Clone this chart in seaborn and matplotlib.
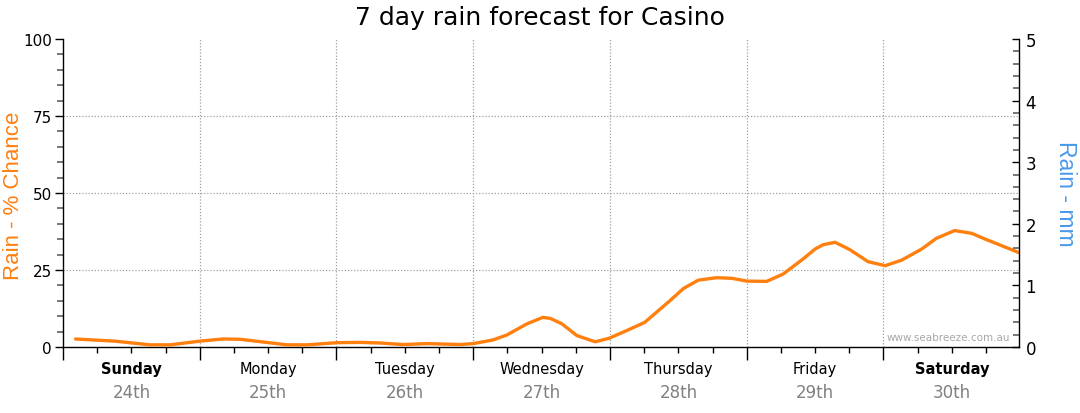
import matplotlib
matplotlib.use("Agg")
import matplotlib.pyplot as plt
import matplotlib.transforms as mtransforms
from matplotlib.ticker import MultipleLocator
import seaborn as sns
import pandas as pd

# ---- data (hours from start of Sunday, % chance of rain) ----
hours = [2.2, 9.1, 15.3, 18.8, 24.0, 28.1, 31.1, 39.3, 42.8, 48.1, 52.1, 55.6,
         59.7, 63.9, 69.7, 72.0, 75.5, 77.9, 81.4, 84.2, 85.5, 87.5, 90.2, 93.4,
         95.8, 98.9, 102.1, 106.5, 108.9, 111.5, 114.7, 117.4, 120.0, 123.5,
         126.4, 129.9, 132.0, 133.4, 135.5, 138.1, 141.3, 144.3, 147.2, 150.7,
         153.3, 156.5, 159.5, 161.5, 167.7]
chance = [2.6, 1.9, 0.7, 0.7, 1.9, 2.6, 2.5, 0.7, 0.7, 1.4, 1.5, 1.3,
          0.8, 1.1, 0.8, 1.1, 2.3, 3.9, 7.5, 9.6, 9.3, 7.6, 3.7, 1.7,
          2.8, 5.3, 8.0, 15.0, 19.0, 21.7, 22.5, 22.3, 21.4, 21.3,
          23.7, 28.6, 31.8, 33.2, 34.0, 31.6, 27.7, 26.4, 28.2, 31.8,
          35.3, 37.8, 36.9, 35.3, 30.7]
days = ["Sunday", "Monday", "Tuesday", "Wednesday", "Thursday", "Friday", "Saturday"]
dates = ["24th", "25th", "26th", "27th", "28th", "29th", "30th"]
bold_days = ["Sunday", "Saturday"]
left_ticks = [0, 25, 50, 75, 100]
right_ticks = [0, 1, 2, 3, 4, 5]

XMAX = 167.7
df = pd.DataFrame({"hour": hours, "chance": chance})

sns.set_theme(style="white")
plt.rcParams["font.family"] = ["DejaVu Sans"]

fig = plt.figure(figsize=(10.8, 4.14), dpi=100)
ax = fig.add_axes([63 / 1080, 66 / 414, 955.5 / 1080, 308 / 414])

sns.lineplot(data=df, x="hour", y="chance", ax=ax, color="#ff7f0f",
             linewidth=2.4, zorder=5)

ax.set_xlim(0, XMAX)
ax.set_ylim(0, 100)
ax.set_xlabel("")

# grid
for y in [25, 50, 75]:
    ax.axhline(y, color="#a0a0a0", linestyle=(0, (1, 1.5)), linewidth=0.9, zorder=1)
for d in range(1, 7):
    ax.axvline(24 * d, color="#a0a0a0", linestyle=(0, (1, 1.5)), linewidth=0.9, zorder=1)

# spines
for s in ["top", "right"]:
    ax.spines[s].set_visible(False)
for s in ["left", "bottom"]:
    ax.spines[s].set_color("black")
    ax.spines[s].set_linewidth(1.0)

# left y ticks
ax.set_yticks(left_ticks)
ax.yaxis.set_minor_locator(MultipleLocator(5))
ax.tick_params(axis="y", which="major", direction="out", length=6, width=1,
               color="black", labelcolor="black", labelsize=11, pad=2, left=True)
ax.tick_params(axis="y", which="minor", direction="out", length=4, width=1.2,
               color="#606060", left=True)

# x ticks: day boundaries and 6-hourly minors
ax.set_xticks([24 * d for d in range(0, 8) if 24 * d <= XMAX])
ax.set_xticklabels([])
ax.xaxis.set_minor_locator(MultipleLocator(6))
ax.tick_params(axis="x", which="major", direction="out", length=9, width=1,
               color="black", bottom=True)
ax.tick_params(axis="x", which="minor", direction="out", length=4, width=1,
               color="black", bottom=True)

# day / date labels
trans = mtransforms.blended_transform_factory(ax.transData, ax.transAxes)
for i, (dname, dt) in enumerate(zip(days, dates)):
    xc = 24 * i + 12
    ax.text(xc, -22 / 308, dname, transform=trans, ha="center", va="center",
            fontsize=10.5, color="black",
            fontweight="bold" if dname in bold_days else "normal")
    ax.text(xc, -45 / 308, dt, transform=trans, ha="center", va="center",
            fontsize=12, color="#808080")

# left label
ax.set_ylabel("Rain - % Chance", color="#ff7f0f", fontsize=16,
              fontfamily="Liberation Sans")
ax.yaxis.set_label_coords(-49 / 955.5, 0.4935)
ax.yaxis.label.set_va("center")

# right axis
ax2 = ax.twinx()
ax2.set_ylim(0, 5)
ax2.set_yticks(right_ticks)
ax2.yaxis.set_minor_locator(MultipleLocator(0.2))
for s in ["top", "left", "bottom"]:
    ax2.spines[s].set_visible(False)
ax2.spines["right"].set_color("black")
ax2.spines["right"].set_linewidth(1.0)
ax2.tick_params(axis="y", which="major", direction="in", length=5, width=1,
                color="black", labelcolor="black", labelsize=12, pad=5, right=True)
ax2.tick_params(axis="y", which="minor", direction="in", length=4, width=1.2,
                color="#606060", right=True)
ax2.set_ylabel("Rain - mm", color="#4a9aea", fontsize=16.5, rotation=-90,
               fontfamily="Liberation Sans")
ax2.yaxis.set_label_coords(1002 / 955.5, 0.502)
ax2.yaxis.label.set_va("center")
ax2.grid(False)
ax.grid(False)

# watermark
ax.text(0.991, 0.032, "www.seabreeze.com.au", transform=ax.transAxes,
        ha="right", va="center", fontsize=7.5, color="#a8a8a8")

# title
fig.text(0.5, 1 - 18 / 414, "7 day rain forecast for Casino", ha="center",
         va="center", fontsize=18, color="black")

fig.savefig("out.png", dpi=100)
